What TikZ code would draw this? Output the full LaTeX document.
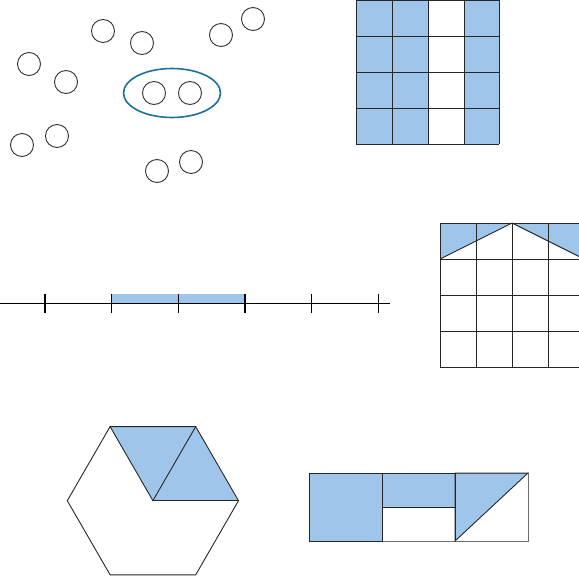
\documentclass[tikz,border=0pt]{standalone}
\usepackage{tikz}
\definecolor{fillblue}{RGB}{160,197,234}
\definecolor{ringblue}{RGB}{30,112,152}
\definecolor{edgegray}{RGB}{110,110,110}
\tikzset{
  ln/.style={line width=0.9pt,draw=black!85},
  thinln/.style={line width=0.8pt,draw=edgegray},
  dot/.style={line width=0.9pt,draw=black!80},
  bl/.style={fill=fillblue},
}
\begin{document}
\begin{tikzpicture}[x=1pt,y=-1pt]
\useasboundingbox (0,0) rectangle (579,576);
% circles
\foreach \cx/\cy in {103/31,142/43,221/35,253/19,29/64,66/82,154/93,190/93,57/136,22/145,157/171,191/162}
  \draw[dot] (\cx,\cy) circle[radius=11.5];
\draw[line width=1.6pt,draw=ringblue] (172,93) ellipse[x radius=48.5,y radius=24.5];
% top-right grid
\fill[bl] (356,0) rectangle (428,144);
\fill[bl] (464,0) rectangle (499,144);
\foreach \x in {356,392,428,464,499} \draw[ln] (\x,0) -- (\x,144);
\foreach \y in {0.5,36,72,108,144} \draw[ln] (356,\y) -- (499,\y);
% middle-right grid with roof
\begin{scope}
\clip (0,0) rectangle (579,576);
\fill[bl] (440,223) -- (584,223) -- (584,259) -- (512,223) -- (440,259) -- cycle;
\foreach \x in {440,476,512,548,584} \draw[ln] (\x,223) -- (\x,367);
\foreach \y in {223,259,295,331,367} \draw[ln] (440,\y) -- (584,\y);
\draw[ln] (440,259) -- (512,223) -- (584,259);
\end{scope}
% number line
\fill[bl] (111.7,294) rectangle (245,303.3);
\draw[line width=1.3pt] (0,303.3) -- (390,303.3);
\foreach \x in {45,111.7,178.3,245,311.7,378.3}
  \draw[line width=1.3pt] (\x,294) -- (\x,312.5);
% hexagon
\coordinate (hc) at (152.9,500.7);
\coordinate (h0) at (238.5,500.7);
\coordinate (h1) at (195.7,426.6);
\coordinate (h2) at (110.1,426.6);
\coordinate (h3) at (67.3,500.7);
\coordinate (h4) at (110.1,574.8);
\coordinate (h5) at (195.7,574.8);
\fill[bl] (h2) -- (h1) -- (h0) -- (hc) -- cycle;
\draw[ln] (h0) -- (h1) -- (h2) -- (h3) -- (h4) -- (h5) -- cycle;
\draw[ln] (h2) -- (hc) -- (h1);
\draw[ln] (hc) -- (h0);
% bottom rectangle
\fill[bl] (309,473) rectangle (382,541);
\fill[bl] (382,473) rectangle (455,507);
\fill[bl] (455,473) -- (528,473) -- (455,541) -- cycle;
\draw[thinln] (309,473) rectangle (528,541);
\draw[ln] (309,473) rectangle (382,541);
\draw[ln] (382,473) -- (455,473) -- (455,541);
\draw[ln] (382,507) -- (455,507);
\draw[ln] (455,473) -- (528,473) -- (455,541) -- cycle;
\end{tikzpicture}
\end{document}
